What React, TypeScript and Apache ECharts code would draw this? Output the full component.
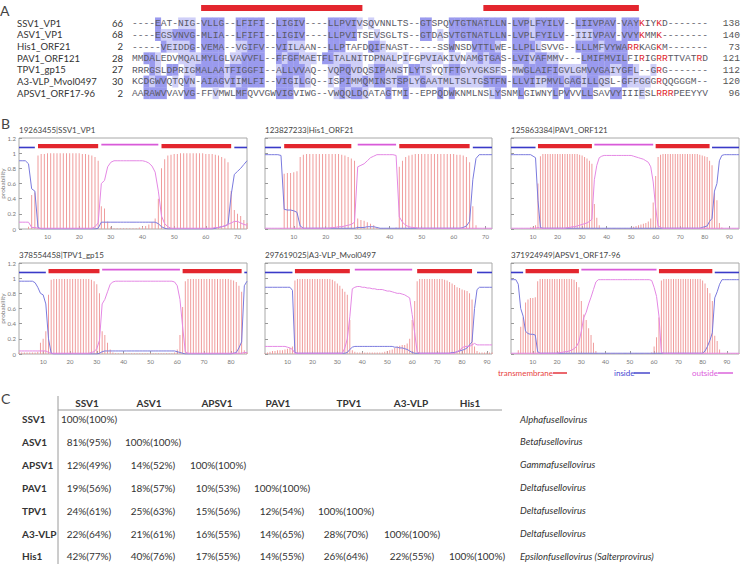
import React, { useEffect, useRef } from "react";
import * as echarts from "echarts";

// ---------------- A: alignment of the VP1-like proteins ----------------
const alignNames = ["SSV1_VP1", "ASV1_VP1", "His1_ORF21", "PAV1_ORF121", "TPV1_gp15", "A3-VLP_Mvol0497", "APSV1_ORF17-96"];
const alignFrom = [66, 68, 2, 28, 27, 30, 2];
const alignTo = [138, 140, 73, 121, 112, 120, 96];
const alignRows = [
  "----EAT-NI G-VLLG--LF IFI--LIGIV ----LLPVIV SQVNNLTS-- GTSPQVTGTN ATLLN-LVPL FYILV--LII VPAV-VAYKI YKD-------",
  "----EGSVNV G-MLIA--LF IFI--LIGIV ----LLPVIT SEVSGLTS-- GTDASVTGTN ATLLN-LVPL FYILV--III VPAV-VVYKM MK--------",
  "-----VEIDD G-VEMA--VG IFV--VIILA AN--LLPTAF DQIFNAST-- ---SSWNSDV TTLWE-LLPL LSVVG--LLL MFVYWARRKA GKM-------",
  "MMDALEDVMQ ALMYLGLVAV VFL--FFGFM AETFLTALNI TDPNALPIFG PVIAKIVNAM GTGAS-LVIV AFMMV---LM IFMVILFIRI GRRTTVATRD",
  "RRRGSLDPRI GMALAATFIG GFI--ALLVV AQ--VQPQVD QSIPANSTLY TSYQTFTGYV GKSFS-MWGL AIFIGVLGMV VGAIYGFL-- GRG-------",
  "KCDGWVQTQV N-AIAGVIIM LFI--VIGIL GQ--ISPIMM QMINSTSPLY GAATMLTSLT GSTFN-LLVI IPMVLGAGIL LQSL-GFFGG GRQQGGGM--",
  "AARAWVVAVV G-FFVMWLMF QVVGWVIGVI WG--VWQQLD QATAGTMI-- EPPQDWKNML NSLYSNMLGI WNYLPVVVLL SAVVYIIIES LRRRPEEYYV",
];
// conservation shading per column: d = strong, l = weak, . = none
const shadeRows = [
  "....d...ll l.dddd..dd ddd..ddddd ....dddddl .l........ dd...ddddd ddddd.dddl ddddd..ddd dddd.ddd.. ..........",
  "....dllddd d.dddd..dd ddd..ddddd ....ddddd. ..l....... dd.l.ddddd ddddd.dddl ddddd..lll dddd.ddd.. ..........",
  ".....dllll d.dddd..ll ddd..ddlll ....ddd... .ddl...... .....d...d dddl..dddd l......ddd dldddd.... ..........",
  "..ddl...ll lldddd.lld ddd..dlddl ll.ddlllll ..llll.l.. llll.ll.ll dldd..dddl ddll....dd dddddd.... ..........",
  "...dl.dd.l ldddddlddd ddd..ldddd l...llddll .lddlll.dd ll..lddlll llll..lldd ddddllllld dddllddl.. l.........",
  "..dldd.l.d l.ddddldld ddd..dddld l...l.ddll dlddllddll dlllllllll ldddd.dddd lldddlddld dll..dllll ..........",
  "..dddd...d d...l...dd .....ddd.. .....ldldd l...d..d.. ...d.d.... ..ld...d.. ...d.d..dd ...dd...l. ..........",
];
const basicResidueCols = [[89, 92], [89, 92], [87, 88, 92], [89, 92, 93, 99], [92], [92], [92, 93, 94]];
const tmBlockCols = [[13, 40], [62, 88]];

// ---------------- B: TMHMM posterior probabilities ----------------
const plotTitles = ["19263455|SSV1_VP1", "123827233|His1_ORF21", "125863384|PAV1_ORF121", "378554458|TPV1_gp15", "297619025|A3-VLP_Mvol0497", "371924949|APSV1_ORF17-96"];
const xTickValues = [10, 20, 30, 40, 50, 60, 70, 80, 90];

const ssv1Tm = [
  0, 0, 0, 0.03, 0.45, 0.48, 0.97, 0.99, 0.99, 1,
  1, 1, 1, 1, 1, 1, 1, 1, 1, 1,
  0.99, 0.99, 0.98, 0.97, 0.95, 0.9, 0.3, 0.27, 0.1, 0.03,
  0.01, 0.01, 0.01, 0.01, 0.01, 0.01, 0.01, 0.01, 0.02, 0.03,
  0.04, 0.06, 0.09, 0.14, 0.4, 0.8, 0.92, 0.97, 0.98, 0.99,
  0.99, 1, 1, 1, 1, 1, 1, 1, 1, 0.99,
  0.99, 0.99, 0.98, 0.97, 0.95, 0.93, 0.88, 0.5, 0.25, 0.2,
  0.17, 0.12, 0.08,
];
const ssv1In = [
  0.9, 0.9, 0.9, 0.86, 0.53, 0.5, 0.02, 0, 0, 0,
  0, 0, 0, 0, 0, 0, 0, 0, 0, 0,
  0, 0, 0, 0, 0, 0.01, 0.09, 0.09, 0.09, 0.09,
  0.09, 0.09, 0.09, 0.09, 0.09, 0.09, 0.09, 0.09, 0.09, 0.09,
  0.09, 0.09, 0.09, 0.09, 0.07, 0.03, 0.01, 0, 0, 0,
  0, 0, 0, 0, 0, 0, 0, 0, 0, 0,
  0, 0, 0.01, 0.02, 0.03, 0.04, 0.06, 0.45, 0.72, 0.76,
  0.8, 0.85, 0.9,
];
const ssv1Out = [
  0.09, 0.09, 0.09, 0.09, 0.02, 0.02, 0.01, 0.01, 0.01, 0.01,
  0.01, 0.01, 0.01, 0.01, 0.01, 0.01, 0.01, 0.01, 0.01, 0.01,
  0.01, 0.01, 0.01, 0.01, 0.03, 0.08, 0.6, 0.64, 0.82, 0.88,
  0.9, 0.9, 0.9, 0.9, 0.9, 0.9, 0.9, 0.9, 0.9, 0.9,
  0.89, 0.87, 0.83, 0.75, 0.5, 0.17, 0.07, 0.03, 0.01, 0.01,
  0.01, 0.01, 0.01, 0.01, 0.01, 0.01, 0.01, 0.01, 0.01, 0.01,
  0.01, 0.01, 0.02, 0.02, 0.03, 0.04, 0.06, 0.08, 0.1, 0.1,
  0.08, 0.06, 0.05,
];
// topology: [from, to, kind] with kind 0 = inside, 1 = transmembrane, 2 = outside
const ssv1Topo = [[1, 6, 0], [7, 26, 1], [27, 45, 2], [46, 68, 1], [69, 73, 0]];

const his1Tm = [
  0, 0, 0, 0, 0, 0.01, 0.73, 0.74, 0.74, 0.75,
  0.76, 0.95, 0.98, 0.99, 0.99, 0.99, 0.99, 0.99, 0.99, 0.99,
  0.99, 0.99, 0.99, 0.99, 0.98, 0.97, 0.95, 0.93, 0.9, 0.14,
  0.12, 0.11, 0.09, 0.07, 0.05, 0.02, 0.01, 0.01, 0.01, 0.01,
  0.01, 0.02, 0.82, 0.9, 0.95, 0.97, 0.98, 0.99, 0.99, 0.99,
  0.99, 0.99, 0.99, 0.99, 0.99, 0.99, 0.99, 0.99, 0.99, 0.99,
  0.98, 0.98, 0.97, 0.95, 0.88, 0.3, 0.05, 0, 0, 0,
  0, 0,
];
const his1In = [
  0.98, 0.98, 0.98, 0.98, 0.98, 0.97, 0.26, 0.25, 0.25, 0.24,
  0.22, 0.04, 0.01, 0.01, 0.01, 0.01, 0.01, 0.01, 0.01, 0.01,
  0.01, 0.01, 0.01, 0.01, 0.01, 0.01, 0.01, 0.01, 0.01, 0.02,
  0.02, 0.02, 0.03, 0.03, 0.03, 0.02, 0.01, 0.01, 0.01, 0.01,
  0.01, 0.01, 0.01, 0.01, 0.01, 0.01, 0.01, 0.01, 0.01, 0.01,
  0.01, 0.01, 0.01, 0.01, 0.01, 0.01, 0.01, 0.01, 0.01, 0.01,
  0.01, 0.01, 0.02, 0.04, 0.1, 0.65, 0.93, 0.98, 0.98, 0.98,
  0.98, 0.98,
];
const his1Out = [
  0.01, 0.01, 0.01, 0.01, 0.01, 0.01, 0.01, 0.01, 0.01, 0.01,
  0.01, 0.01, 0.01, 0.01, 0.01, 0.01, 0.01, 0.01, 0.01, 0.01,
  0.01, 0.02, 0.02, 0.03, 0.03, 0.04, 0.05, 0.06, 0.09, 0.82,
  0.84, 0.86, 0.9, 0.94, 0.96, 0.98, 0.98, 0.98, 0.98, 0.98,
  0.98, 0.97, 0.16, 0.09, 0.05, 0.03, 0.02, 0.02, 0.01, 0.01,
  0.01, 0.01, 0.01, 0.01, 0.01, 0.01, 0.01, 0.01, 0.01, 0.01,
  0.01, 0.01, 0.01, 0.01, 0.01, 0.01, 0.01, 0.01, 0.01, 0.01,
  0.01, 0.01,
];
const his1Topo = [[1, 6, 0], [7, 28, 1], [30, 42, 2], [43, 65, 1], [66, 72, 0]];

const pav1Tm = [
  0, 0, 0, 0, 0, 0, 0, 0, 0.02, 0.03,
  0.05, 0.6, 0.96, 0.99, 0.99, 0.99, 0.99, 0.99, 0.99, 0.99,
  0.99, 0.99, 0.99, 0.99, 0.99, 0.99, 0.99, 0.99, 0.98, 0.97,
  0.95, 0.93, 0.9, 0.86, 0.33, 0.15, 0.05, 0.01, 0.01, 0.01,
  0.01, 0.01, 0.01, 0.01, 0.01, 0.01, 0.01, 0.01, 0.01, 0.02,
  0.03, 0.04, 0.05, 0.06, 0.07, 0.08, 0.1, 0.14, 0.35, 0.7,
  0.95, 0.98, 0.99, 0.99, 0.99, 0.99, 0.99, 0.99, 0.99, 0.99,
  0.99, 0.99, 0.99, 0.99, 0.99, 0.99, 0.99, 0.98, 0.97, 0.96,
  0.95, 0.9, 0.84, 0.47, 0.38, 0.08, 0.02, 0, 0, 0,
  0, 0, 0, 0,
];
const pav1In = [
  0.98, 0.98, 0.98, 0.98, 0.98, 0.98, 0.98, 0.98, 0.98, 0.96,
  0.94, 0.38, 0.02, 0.01, 0.01, 0.01, 0.01, 0.01, 0.01, 0.01,
  0.01, 0.01, 0.01, 0.01, 0.01, 0.01, 0.01, 0.01, 0.01, 0.01,
  0.01, 0.01, 0.01, 0.01, 0.01, 0.01, 0.01, 0.01, 0.01, 0.01,
  0.01, 0.01, 0.01, 0.01, 0.01, 0.01, 0.01, 0.01, 0.01, 0.01,
  0.01, 0.01, 0.01, 0.01, 0.01, 0.01, 0.01, 0.01, 0.01, 0.01,
  0.01, 0.01, 0.01, 0.01, 0.01, 0.01, 0.01, 0.01, 0.01, 0.01,
  0.01, 0.01, 0.01, 0.01, 0.01, 0.01, 0.01, 0.01, 0.02, 0.03,
  0.04, 0.1, 0.14, 0.5, 0.6, 0.9, 0.97, 0.98, 0.98, 0.98,
  0.98, 0.98, 0.98, 0.98,
];
const pav1Out = [
  0.01, 0.01, 0.01, 0.01, 0.01, 0.01, 0.01, 0.01, 0.01, 0.01,
  0.01, 0.02, 0.01, 0.01, 0.01, 0.01, 0.01, 0.01, 0.01, 0.01,
  0.01, 0.01, 0.01, 0.02, 0.02, 0.03, 0.03, 0.04, 0.05, 0.06,
  0.07, 0.08, 0.1, 0.13, 0.65, 0.84, 0.94, 0.96, 0.97, 0.97,
  0.97, 0.97, 0.97, 0.97, 0.97, 0.97, 0.97, 0.97, 0.97, 0.97,
  0.96, 0.95, 0.94, 0.93, 0.92, 0.9, 0.88, 0.82, 0.62, 0.28,
  0.04, 0.02, 0.01, 0.01, 0.01, 0.01, 0.01, 0.01, 0.01, 0.01,
  0.01, 0.01, 0.01, 0.01, 0.01, 0.01, 0.01, 0.01, 0.01, 0.01,
  0.01, 0.01, 0.01, 0.01, 0.01, 0.01, 0.01, 0.01, 0.01, 0.01,
  0.01, 0.01, 0.01, 0.01,
];
const pav1Topo = [[1, 11, 0], [12, 34, 1], [35, 59, 2], [60, 82, 1], [83, 94, 0]];

const tpv1Tm = [
  0.02, 0.02, 0.02, 0.02, 0.02, 0.02, 0.02, 0.03, 0.15, 0.2,
  0.3, 0.78, 0.98, 0.99, 0.99, 0.99, 0.99, 0.99, 0.99, 0.99,
  0.99, 0.99, 0.99, 0.99, 0.99, 0.99, 0.99, 0.98, 0.96, 0.92,
  0.8, 0.3, 0.25, 0.15, 0.06, 0.02, 0.01, 0.01, 0.01, 0.01,
  0.01, 0.01, 0.01, 0.01, 0.01, 0.01, 0.01, 0.01, 0.01, 0.01,
  0.01, 0.01, 0.01, 0.01, 0.01, 0.01, 0.01, 0.01, 0.02, 0.06,
  0.25, 0.62, 0.96, 0.99, 0.99, 0.99, 0.99, 0.99, 0.99, 0.99,
  0.99, 0.99, 0.99, 0.99, 0.99, 0.99, 0.99, 0.99, 0.99, 0.98,
  0.97, 0.95, 0.9, 0.82, 0.05, 0.02,
];
const tpv1In = [
  0.96, 0.96, 0.96, 0.96, 0.96, 0.96, 0.94, 0.88, 0.8, 0.78,
  0.66, 0.2, 0.01, 0, 0, 0, 0, 0, 0, 0,
  0, 0, 0, 0, 0, 0, 0, 0, 0, 0,
  0.01, 0.03, 0.04, 0.04, 0.04, 0.04, 0.04, 0.04, 0.04, 0.04,
  0.04, 0.04, 0.04, 0.04, 0.04, 0.04, 0.04, 0.04, 0.04, 0.04,
  0.04, 0.04, 0.04, 0.04, 0.04, 0.04, 0.04, 0.04, 0.04, 0.03,
  0.02, 0.01, 0, 0, 0, 0, 0, 0, 0, 0,
  0, 0, 0, 0, 0, 0, 0, 0, 0, 0,
  0.01, 0.02, 0.08, 0.16, 0.9, 0.96,
];
const tpv1Out = [
  0.04, 0.04, 0.04, 0.04, 0.04, 0.04, 0.04, 0.04, 0.04, 0.04,
  0.04, 0.02, 0.01, 0.01, 0.01, 0.01, 0.01, 0.01, 0.01, 0.01,
  0.01, 0.01, 0.01, 0.01, 0.01, 0.01, 0.01, 0.02, 0.03, 0.07,
  0.18, 0.66, 0.72, 0.82, 0.92, 0.95, 0.96, 0.96, 0.96, 0.96,
  0.96, 0.96, 0.96, 0.96, 0.96, 0.96, 0.96, 0.96, 0.96, 0.96,
  0.96, 0.96, 0.96, 0.96, 0.96, 0.96, 0.96, 0.96, 0.95, 0.9,
  0.72, 0.36, 0.03, 0.01, 0.01, 0.01, 0.01, 0.01, 0.01, 0.01,
  0.01, 0.01, 0.01, 0.01, 0.01, 0.01, 0.01, 0.01, 0.01, 0.01,
  0.01, 0.01, 0.01, 0.01, 0.02, 0.02,
];
const tpv1Topo = [[1, 11, 0], [12, 31, 1], [32, 61, 2], [62, 84, 1], [85, 86, 0]];

const a3vlpTm = [
  0.01, 0.02, 0.03, 0.04, 0.04, 0.05, 0.05, 0.05, 0.06, 0.07,
  0.08, 0.1, 0.97, 0.99, 0.99, 0.99, 0.99, 0.99, 0.99, 0.99,
  0.99, 0.99, 0.99, 0.99, 0.99, 0.99, 0.99, 0.98, 0.96, 0.93,
  0.9, 0.86, 0.82, 0.78, 0.45, 0.05, 0.03, 0.02, 0.02, 0.02,
  0.02, 0.02, 0.02, 0.02, 0.02, 0.02, 0.02, 0.02, 0.03, 0.04,
  0.05, 0.06, 0.08, 0.1, 0.11, 0.12, 0.12, 0.14, 0.2, 0.45,
  0.7, 0.96, 0.99, 0.99, 0.99, 0.99, 0.99, 0.99, 0.99, 0.99,
  0.99, 0.99, 0.98, 0.97, 0.95, 0.93, 0.91, 0.88, 0.87, 0.85,
  0.84, 0.83, 0.8, 0.72, 0.1, 0.04, 0.02, 0.02, 0.02, 0.02,
  0.02, 0.02,
];
const a3vlpIn = [
  0.88, 0.88, 0.88, 0.88, 0.88, 0.88, 0.88, 0.88, 0.88, 0.88,
  0.88, 0.84, 0.02, 0.01, 0.01, 0.01, 0.01, 0.01, 0.01, 0.01,
  0.01, 0.01, 0.01, 0.01, 0.01, 0.01, 0.01, 0.01, 0.01, 0.01,
  0.01, 0.01, 0.01, 0.02, 0.06, 0.09, 0.1, 0.1, 0.1, 0.1,
  0.1, 0.1, 0.1, 0.1, 0.1, 0.1, 0.1, 0.1, 0.1, 0.1,
  0.1, 0.1, 0.09, 0.09, 0.08, 0.08, 0.07, 0.06, 0.04, 0.02,
  0.01, 0.01, 0.01, 0.01, 0.01, 0.01, 0.01, 0.01, 0.01, 0.01,
  0.01, 0.01, 0.01, 0.01, 0.01, 0.02, 0.02, 0.03, 0.04, 0.05,
  0.06, 0.08, 0.12, 0.16, 0.6, 0.85, 0.88, 0.88, 0.88, 0.88,
  0.88, 0.88,
];
const a3vlpOut = [
  0.1, 0.1, 0.1, 0.1, 0.1, 0.1, 0.1, 0.1, 0.1, 0.09,
  0.08, 0.06, 0.01, 0.01, 0.01, 0.01, 0.01, 0.01, 0.01, 0.01,
  0.01, 0.01, 0.01, 0.01, 0.01, 0.01, 0.01, 0.01, 0.01, 0.01,
  0.01, 0.01, 0.08, 0.2, 0.49, 0.86, 0.88, 0.89, 0.89, 0.88,
  0.88, 0.87, 0.87, 0.86, 0.86, 0.85, 0.85, 0.85, 0.84, 0.83,
  0.83, 0.82, 0.81, 0.8, 0.8, 0.79, 0.78, 0.76, 0.74, 0.52,
  0.28, 0.03, 0.01, 0.01, 0.01, 0.01, 0.01, 0.01, 0.01, 0.01,
  0.01, 0.01, 0.01, 0.01, 0.01, 0.01, 0.01, 0.03, 0.05, 0.08,
  0.1, 0.1, 0.1, 0.12, 0.14, 0.12, 0.12, 0.12, 0.12, 0.12,
  0.12, 0.12,
];
const a3vlpTopo = [[1, 12, 0], [13, 35, 1], [37, 60, 2], [62, 84, 1], [86, 92, 0]];

const apsv1Tm = [
  0, 0, 0, 0.05, 0.36, 0.48, 0.68, 0.72, 0.74, 0.74,
  0.75, 0.96, 0.99, 0.99, 0.99, 0.99, 0.99, 0.99, 0.99, 0.99,
  0.99, 0.99, 0.99, 0.99, 0.99, 0.99, 0.98, 0.95, 0.88, 0.7,
  0.52, 0.45, 0.34, 0.25, 0.15, 0.04, 0.01, 0.01, 0.01, 0.01,
  0.01, 0.01, 0.01, 0.01, 0.01, 0.01, 0.01, 0.01, 0.01, 0.01,
  0.01, 0.01, 0.01, 0.01, 0.01, 0.01, 0.01, 0.01, 0.02, 0.1,
  0.22, 0.48, 0.97, 0.99, 0.99, 0.99, 0.99, 0.99, 0.99, 0.99,
  0.99, 0.99, 0.99, 0.99, 0.99, 0.99, 0.99, 0.99, 0.99, 0.97,
  0.93, 0.87, 0.8, 0.7, 0.24, 0.17, 0.06, 0.01, 0.01, 0.01,
  0.01, 0.01, 0.01, 0.01, 0.01,
];
const apsv1In = [
  0.98, 0.98, 0.98, 0.92, 0.6, 0.5, 0.3, 0.27, 0.26, 0.26,
  0.25, 0.03, 0.01, 0.01, 0.01, 0.01, 0.01, 0.01, 0.01, 0.01,
  0.01, 0.01, 0.01, 0.01, 0.01, 0.01, 0.01, 0.01, 0.01, 0.01,
  0.01, 0.01, 0.01, 0.01, 0.01, 0.01, 0.01, 0.01, 0.01, 0.01,
  0.01, 0.01, 0.01, 0.01, 0.01, 0.01, 0.01, 0.01, 0.01, 0.01,
  0.01, 0.01, 0.01, 0.01, 0.01, 0.01, 0.01, 0.01, 0.01, 0.01,
  0.01, 0.01, 0.01, 0.01, 0.01, 0.01, 0.01, 0.01, 0.01, 0.01,
  0.01, 0.01, 0.01, 0.01, 0.01, 0.01, 0.01, 0.01, 0.01, 0.01,
  0.04, 0.1, 0.18, 0.28, 0.74, 0.82, 0.92, 0.98, 0.98, 0.98,
  0.98, 0.98, 0.98, 0.98, 0.98,
];
const apsv1Out = [
  0.01, 0.01, 0.01, 0.01, 0.01, 0.01, 0.01, 0.01, 0.01, 0.01,
  0.01, 0.01, 0.01, 0.01, 0.01, 0.01, 0.01, 0.01, 0.01, 0.01,
  0.02, 0.02, 0.03, 0.03, 0.04, 0.05, 0.07, 0.1, 0.16, 0.3,
  0.48, 0.55, 0.66, 0.75, 0.85, 0.95, 0.98, 0.98, 0.98, 0.98,
  0.98, 0.98, 0.98, 0.98, 0.98, 0.98, 0.98, 0.98, 0.98, 0.98,
  0.98, 0.98, 0.98, 0.98, 0.98, 0.98, 0.98, 0.98, 0.97, 0.88,
  0.76, 0.5, 0.02, 0.01, 0.01, 0.01, 0.01, 0.01, 0.01, 0.01,
  0.01, 0.01, 0.01, 0.01, 0.01, 0.01, 0.01, 0.01, 0.01, 0.01,
  0.01, 0.01, 0.01, 0.01, 0.01, 0.01, 0.01, 0.01, 0.01, 0.01,
  0.01, 0.01, 0.01, 0.01, 0.01,
];
const apsv1Topo = [[1, 6, 0], [7, 29, 1], [30, 61, 2], [62, 84, 1], [85, 95, 0]];

const plots = [
  { tm: ssv1Tm, inside: ssv1In, outside: ssv1Out, topo: ssv1Topo },
  { tm: his1Tm, inside: his1In, outside: his1Out, topo: his1Topo },
  { tm: pav1Tm, inside: pav1In, outside: pav1Out, topo: pav1Topo },
  { tm: tpv1Tm, inside: tpv1In, outside: tpv1Out, topo: tpv1Topo },
  { tm: a3vlpTm, inside: a3vlpIn, outside: a3vlpOut, topo: a3vlpTopo },
  { tm: apsv1Tm, inside: apsv1In, outside: apsv1Out, topo: apsv1Topo },
];
const legendLabels = ["transmembrane", "inside", "outside"];

// ---------------- C: pairwise identity (similarity) ----------------
const virusNames = ["SSV1", "ASV1", "APSV1", "PAV1", "TPV1", "A3-VLP", "His1"];
const identityPct = [
  [100],
  [81, 100],
  [12, 14, 100],
  [19, 18, 10, 100],
  [24, 25, 15, 12, 100],
  [22, 21, 16, 14, 28, 100],
  [42, 40, 17, 14, 26, 22, 100],
];
const similarityPct = [
  [100],
  [95, 100],
  [49, 52, 100],
  [56, 57, 53, 100],
  [61, 63, 56, 54, 100],
  [64, 61, 55, 65, 70, 100],
  [77, 76, 55, 55, 64, 55, 100],
];
const genera = [
  "Alphafusellovirus",
  "Betafusellovirus",
  "Gammafusellovirus",
  "Deltafusellovirus",
  "Deltafusellovirus",
  "Deltafusellovirus",
  "Epsilonfusellovirus (Salterprovirus)",
];

// ---------------- layout & style ----------------
const W = 745;
const H = 564;
const SANS = "Lato";
const MONO = '"Liberation Mono"';
const TM_RED = "#e3262e";
const IN_BLUE = "#3a3ac8";
const OUT_MAG = "#d95ad9";
const TOPO_COLORS = [IN_BLUE, TM_RED, OUT_MAG];
const TOPO_WIDTH = [1.6, 4.2, 1.6];
const TOPO_Y = [1.075, 1.092, 1.113];
const SHADE = { d: "#9a9aee", l: "#cfcff8" } as Record<string, string>;

const ALIGN = { left: 132, top: 0, width: 576, height: 100, yMin: -2, yMax: 6.6 };
const alignRowY = (i: number) => ALIGN.top + ((i - ALIGN.yMin) / (ALIGN.yMax - ALIGN.yMin)) * ALIGN.height;

const plotLeft = [19, 265, 511];
const plotWidth = [228, 227, 228];
const plotTop = [138, 263];
const plotHeight = 91;

const tableHeaderX = [87, 149, 217, 278, 349, 411, 470];
const tableCellX = [89, 153, 218, 282, 346, 412, 477];
const tableHeaderY = 403;
const tableRowY0 = 419;
const tableRowDy = 22.9;

function buildOption() {
  const grids: any[] = [];
  const xAxes: any[] = [];
  const yAxes: any[] = [];
  const series: any[] = [];
  const graphics: any[] = [];

  // ---- B: six probability plots ----
  plots.forEach((p, i) => {
    const col = i % 3;
    const row = Math.floor(i / 3);
    const n = p.tm.length;
    const ticks = xTickValues.filter((t) => t < n);
    grids.push({
      left: plotLeft[col],
      top: plotTop[row],
      width: plotWidth[col],
      height: plotHeight,
      show: true,
      borderColor: "#a8a8a8",
      borderWidth: 1,
      backgroundColor: "#fff",
      outerBoundsMode: "none",
    });
    xAxes.push({
      gridIndex: i,
      type: "value",
      min: 1,
      max: n,
      axisLine: { show: false },
      axisTick: { show: true, inside: true, length: 3, customValues: ticks, lineStyle: { color: "#999" } },
      axisLabel: { customValues: ticks, fontSize: 6, color: "#777", margin: 4, fontFamily: SANS },
      splitLine: { show: false },
    });
    yAxes.push({
      gridIndex: i,
      type: "value",
      min: 0,
      max: 1.2,
      interval: 0.2,
      axisLine: { show: false },
      axisTick: { show: true, inside: true, length: 3, lineStyle: { color: "#999" } },
      axisLabel: {
        show: col === 0,
        fontSize: 6,
        color: "#777",
        margin: 3,
        fontFamily: SANS,
        formatter: (v: number) => String(Math.round(v * 10) / 10),
      },
      splitLine: { show: false },
      name: col === 0 ? "probability" : "",
      nameLocation: "middle",
      nameGap: 13.5,
      nameMoveOverlap: false,
      nameTextStyle: { fontSize: 6.5, color: "#777", fontFamily: SANS },
    });
    series.push({
      type: "bar",
      xAxisIndex: i,
      yAxisIndex: i,
      data: p.tm.map((v, k) => [k + 1, v]),
      barWidth: 1,
      itemStyle: { color: "#f09c9c" },
      silent: true,
    });
    series.push({
      type: "line",
      xAxisIndex: i,
      yAxisIndex: i,
      data: p.inside.map((v, k) => [k + 1, v]),
      symbol: "none",
      lineStyle: { color: "#7a7ade", width: 1 },
      silent: true,
    });
    series.push({
      type: "line",
      xAxisIndex: i,
      yAxisIndex: i,
      data: p.outside.map((v, k) => [k + 1, v]),
      symbol: "none",
      lineStyle: { color: "#e488e4", width: 1 },
      silent: true,
    });
    series.push({
      type: "custom",
      xAxisIndex: i,
      yAxisIndex: i,
      data: p.topo,
      silent: true,
      z: 5,
      renderItem: (_params: any, api: any) => {
        const a = api.value(0);
        const b = api.value(1);
        const k = api.value(2);
        const p0 = api.coord([a, TOPO_Y[k]]);
        const p1 = api.coord([b, TOPO_Y[k]]);
        return {
          type: "line",
          shape: { x1: p0[0], y1: p0[1], x2: p1[0], y2: p1[1] },
          style: { stroke: TOPO_COLORS[k], lineWidth: TOPO_WIDTH[k] },
        };
      },
    });
    graphics.push({
      type: "text",
      x: plotLeft[col],
      y: plotTop[row] - 8,
      style: { text: plotTitles[i], font: `8px ${SANS}`, fill: "#444", textAlign: "left", textVerticalAlign: "middle" },
    });
  });

  // ---- A: alignment grid ----
  const ai = grids.length;
  grids.push({ left: ALIGN.left, top: ALIGN.top, width: ALIGN.width, height: ALIGN.height, show: false, outerBoundsMode: "none" });
  xAxes.push({ gridIndex: ai, type: "value", min: 0.5, max: 100.5, show: false });
  yAxes.push({ gridIndex: ai, type: "value", min: ALIGN.yMin, max: ALIGN.yMax, inverse: true, show: false });

  const shadeCells: number[][] = [];
  shadeRows.forEach((s, r) => {
    s.replace(/ /g, "").split("").forEach((ch, c) => {
      if (ch === "d") shadeCells.push([c + 1, r, 2]);
      else if (ch === "l") shadeCells.push([c + 1, r, 1]);
    });
  });
  series.push({
    type: "custom",
    xAxisIndex: ai,
    yAxisIndex: ai,
    data: shadeCells,
    silent: true,
    renderItem: (_params: any, api: any) => {
      const c = api.value(0);
      const r = api.value(1);
      const lvl = api.value(2);
      const p0 = api.coord([c - 0.5, r - 0.5]);
      const p1 = api.coord([c + 0.5, r + 0.5]);
      return {
        type: "rect",
        shape: { x: p0[0], y: p0[1], width: p1[0] - p0[0] + 0.3, height: p1[1] - p0[1] + 0.3 },
        style: { fill: lvl === 2 ? SHADE.d : SHADE.l },
      };
    },
  });

  const letters: number[][] = [];
  alignRows.forEach((s, r) => {
    s.replace(/ /g, "").split("").forEach((ch, c) => {
      const red = basicResidueCols[r].includes(c + 1) ? 1 : 0;
      letters.push([c + 1, r, ch.charCodeAt(0), red]);
    });
  });
  series.push({
    type: "custom",
    xAxisIndex: ai,
    yAxisIndex: ai,
    data: letters,
    silent: true,
    z: 3,
    renderItem: (_params: any, api: any) => {
      const p = api.coord([api.value(0), api.value(1)]);
      return {
        type: "text",
        x: p[0],
        y: p[1] + 0.5,
        style: {
          text: String.fromCharCode(api.value(2)),
          font: `9.6px ${MONO}`,
          fill: api.value(3) ? "#e0262c" : "#5a5a66",
          textAlign: "center",
          textVerticalAlign: "middle",
        },
      };
    },
  });

  series.push({
    type: "custom",
    xAxisIndex: ai,
    yAxisIndex: ai,
    data: tmBlockCols,
    silent: true,
    renderItem: (_params: any, api: any) => {
      const p0 = api.coord([api.value(0) - 0.5, -1.57]);
      const p1 = api.coord([api.value(1) + 0.5, -1.05]);
      return {
        type: "rect",
        shape: { x: p0[0], y: p0[1], width: p1[0] - p0[0], height: p1[1] - p0[1] },
        style: { fill: TM_RED },
      };
    },
  });

  alignNames.forEach((name, i) => {
    const y = alignRowY(i);
    graphics.push({
      type: "text",
      x: 17,
      y,
      style: { text: name, font: `9.5px ${SANS}`, fill: "#333", textAlign: "left", textVerticalAlign: "middle" },
    });
    graphics.push({
      type: "text",
      x: 123,
      y,
      style: { text: String(alignFrom[i]), font: `9.5px ${SANS}`, fill: "#333", textAlign: "right", textVerticalAlign: "middle" },
    });
    graphics.push({
      type: "text",
      x: 740,
      y: y + 0.5,
      style: { text: String(alignTo[i]), font: `9.6px ${MONO}`, fill: "#555", textAlign: "right", textVerticalAlign: "middle" },
    });
  });

  // ---- panel letters ----
  [["A", 0, 10], ["B", 1, 123], ["C", 1, 398]].forEach(([t, x, y]) => {
    graphics.push({
      type: "text",
      x,
      y,
      style: { text: t, font: `14px ${SANS}`, fill: "#444", textAlign: "left", textVerticalAlign: "middle" },
    });
  });

  // ---- B legend ----
  const legendTextX = [498, 614, 692];
  const legendLine = [[553, 567], [634, 650], [718, 733]];
  const legendTextColor = ["#e8453f", "#4646d2", "#dc5cdc"];
  legendLabels.forEach((lab, k) => {
    graphics.push({
      type: "text",
      x: legendTextX[k],
      y: 373,
      style: { text: lab, font: `8px ${SANS}`, fill: legendTextColor[k], textAlign: "left", textVerticalAlign: "middle" },
    });
    graphics.push({
      type: "line",
      shape: { x1: legendLine[k][0], y1: 373, x2: legendLine[k][1], y2: 373 },
      style: { stroke: TOPO_COLORS[k === 0 ? 1 : k === 1 ? 0 : 2], lineWidth: 1.4 },
    });
  });

  // ---- C table ----
  graphics.push({ type: "line", shape: { x1: 58, y1: 410, x2: 502, y2: 410 }, style: { stroke: "#9a9a9a", lineWidth: 1 } });
  graphics.push({ type: "line", shape: { x1: 58, y1: 396, x2: 58, y2: H }, style: { stroke: "#9a9a9a", lineWidth: 1 } });
  virusNames.forEach((v, j) => {
    graphics.push({
      type: "text",
      x: tableHeaderX[j],
      y: tableHeaderY,
      style: { text: v, font: `bold 10px ${SANS}`, fill: "#333", textAlign: "center", textVerticalAlign: "middle" },
    });
  });
  virusNames.forEach((v, i) => {
    const y = tableRowY0 + i * tableRowDy;
    graphics.push({
      type: "text",
      x: 22,
      y,
      style: { text: v, font: `bold 10px ${SANS}`, fill: "#333", textAlign: "left", textVerticalAlign: "middle" },
    });
    identityPct[i].forEach((idv, j) => {
      graphics.push({
        type: "text",
        x: tableCellX[j],
        y,
        style: {
          text: `${idv}%(${similarityPct[i][j]}%)`,
          font: `10px ${SANS}`,
          fill: "#333",
          textAlign: "center",
          textVerticalAlign: "middle",
        },
      });
    });
    graphics.push({
      type: "text",
      x: 520,
      y,
      style: { text: genera[i], font: `italic 9.5px ${SANS}`, fill: "#333", textAlign: "left", textVerticalAlign: "middle" },
    });
  });

  return {
    animation: false,
    backgroundColor: "#ffffff",
    textStyle: { fontFamily: SANS },
    grid: grids,
    xAxis: xAxes,
    yAxis: yAxes,
    series,
    graphic: { elements: graphics },
  };
}

export default function App() {
  const ref = useRef<HTMLDivElement>(null);
  useEffect(() => {
    if (!ref.current) return;
    const chart = echarts.init(ref.current, undefined, { renderer: "svg" });
    chart.setOption(buildOption() as any);
    return () => chart.dispose();
  }, []);
  return <div ref={ref} style={{ position: "absolute", left: 0, top: 0, width: W, height: H, background: "#fff" }} />;
}
